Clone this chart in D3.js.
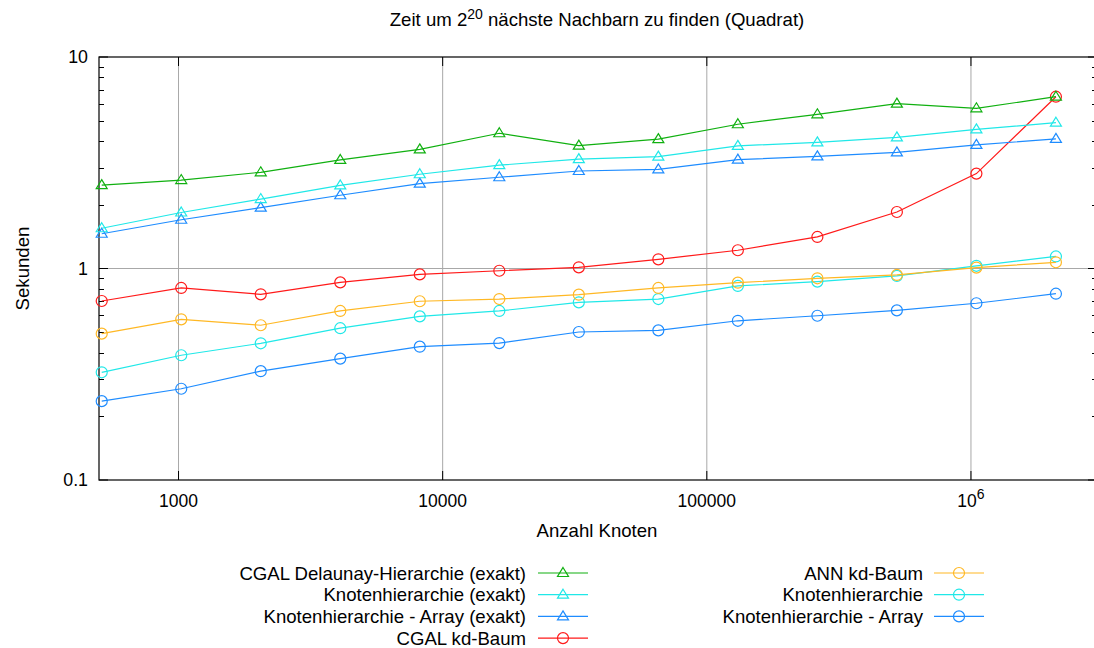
<!DOCTYPE html>
<html><head><meta charset="utf-8">
<script src="https://cdn.jsdelivr.net/npm/d3@7"></script>
<style>body{margin:0;background:#fff}svg{display:block}text{font-family:"Liberation Sans",Arial,sans-serif;fill:#000}</style>
</head><body>
<svg id="c" width="1094" height="648"></svg>
<script>
const nodes = [512, 1024, 2048, 4096, 8192, 16384, 32768, 65536, 131072, 262144, 524288, 1048576, 2097152];
const cgalDelaunayExakt = [2.48, 2.62, 2.85, 3.26, 3.66, 4.36, 3.81, 4.09, 4.81, 5.36, 6.02, 5.72, 6.49];
const knotenExakt = [1.55, 1.84, 2.13, 2.47, 2.79, 3.08, 3.29, 3.38, 3.80, 3.95, 4.17, 4.55, 4.89];
const arrayExakt = [1.46, 1.70, 1.94, 2.22, 2.52, 2.70, 2.89, 2.94, 3.27, 3.39, 3.54, 3.84, 4.10];
const cgalKd = [0.702, 0.809, 0.755, 0.860, 0.938, 0.976, 1.013, 1.105, 1.22, 1.41, 1.85, 2.81, 6.49];
const annKd = [0.492, 0.575, 0.539, 0.630, 0.70, 0.717, 0.752, 0.809, 0.857, 0.899, 0.932, 1.01, 1.07];
const knoten = [0.323, 0.389, 0.443, 0.522, 0.594, 0.630, 0.692, 0.717, 0.827, 0.867, 0.922, 1.03, 1.14];
const knotenArray = [0.236, 0.270, 0.327, 0.375, 0.427, 0.444, 0.501, 0.510, 0.566, 0.598, 0.634, 0.685, 0.760];

const seriesNames = ["CGAL Delaunay-Hierarchie (exakt)", "Knotenhierarchie (exakt)", "Knotenhierarchie - Array (exakt)", "CGAL kd-Baum", "ANN kd-Baum", "Knotenhierarchie", "Knotenhierarchie - Array"];
const seriesValues = [cgalDelaunayExakt, knotenExakt, arrayExakt, cgalKd, annKd, knoten, knotenArray];
const seriesColors = ["#10b010", "#20e8e8", "#1e8cff", "#ff1a1a", "#ffb824", "#20e8e8", "#1e8cff"];
const seriesMarkers = ["tri", "tri", "tri", "circ", "circ", "circ", "circ"];
const xTickValues = [1000, 10000, 100000, 1000000];
const yTickValues = [0.1, 1, 10];

const svg = d3.select("#c");
const L = 99, R = 1097, T = 57, B = 480;
const FS = 18.6;
const x = d3.scaleLog().domain([500, 3e6]).range([L, R]);
const y = d3.scaleLog().domain([0.1, 10]).range([B, T]);

// grid
const g = svg.append("g");
g.selectAll("line.gx").data(xTickValues).join("line")
  .attr("x1", d => x(d)).attr("x2", d => x(d)).attr("y1", T).attr("y2", B)
  .attr("stroke", "#a8a8a8").attr("stroke-width", 1);
g.append("line").attr("x1", L).attr("x2", R).attr("y1", y(1)).attr("y2", y(1))
  .attr("stroke", "#a8a8a8").attr("stroke-width", 1);

// ticks
const minors = [];
[0.1, 1].forEach(b => { for (let k = 2; k <= 9; k++) minors.push(b * k); });
const ax = svg.append("g").attr("stroke", "#000").attr("stroke-width", 1);
ax.selectAll("line.ml").data(minors).join("line")
  .attr("x1", L).attr("x2", L + 5).attr("y1", d => Math.round(y(d)) + 0.5).attr("y2", d => Math.round(y(d)) + 0.5);
ax.selectAll("line.mr").data(minors).join("line")
  .attr("x1", R).attr("x2", R - 5).attr("y1", d => Math.round(y(d)) + 0.5).attr("y2", d => Math.round(y(d)) + 0.5);
ax.selectAll("line.Ml").data(yTickValues).join("line")
  .attr("x1", L).attr("x2", L + 9).attr("y1", d => y(d)).attr("y2", d => y(d));
ax.selectAll("line.Mr").data(yTickValues).join("line")
  .attr("x1", R).attr("x2", R - 9).attr("y1", d => y(d)).attr("y2", d => y(d));
ax.selectAll("line.Mb").data(xTickValues).join("line")
  .attr("x1", d => x(d)).attr("x2", d => x(d)).attr("y1", B).attr("y2", B - 9);
ax.selectAll("line.Mt").data(xTickValues).join("line")
  .attr("x1", d => x(d)).attr("x2", d => x(d)).attr("y1", T).attr("y2", T + 9);
svg.append("rect").attr("x", L).attr("y", T).attr("width", R - L).attr("height", B - T)
  .attr("fill", "none").attr("stroke", "#000").attr("stroke-width", 1.2);

// tick labels
svg.selectAll("text.yt").data(yTickValues).join("text")
  .attr("x", L - 11).attr("y", d => y(d) + 6).attr("text-anchor", "end")
  .attr("font-size", 17.8).text(d => d3.format("")(d));
svg.selectAll("text.xt").data(xTickValues).join("text")
  .attr("x", d => x(d)).attr("y", B + 27).attr("text-anchor", "middle")
  .attr("font-size", 17.5)
  .each(function(d) {
    const t = d3.select(this);
    if (d >= 1e6) {
      const e = Math.round(Math.log10(d));
      t.append("tspan").text("10");
      t.append("tspan").attr("dy", -8).attr("font-size", 14).text(e);
    } else t.text(d);
  });

// titles
const title = svg.append("text").attr("x", 597).attr("y", 26).attr("text-anchor", "middle").attr("font-size", FS);
title.append("tspan").text("Zeit um 2");
title.append("tspan").attr("dy", -7).attr("font-size", 14).text("20");
title.append("tspan").attr("dy", 7).text(" nächste Nachbarn zu finden (Quadrat)");
svg.append("text").attr("x", 597).attr("y", 537).attr("text-anchor", "middle").attr("font-size", FS).text("Anzahl Knoten");
svg.append("text").attr("transform", "translate(29," + ((T + B) / 2) + ") rotate(-90)")
  .attr("text-anchor", "middle").attr("font-size", FS).text("Sekunden");

function marker(sel, type, color) {
  if (type === "tri") {
    sel.append("path").attr("d", "M0,-5.5L5.5,3.5L-5.5,3.5Z")
      .attr("fill", "none").attr("stroke", color).attr("stroke-width", 1.2);
  } else {
    sel.append("circle").attr("r", 5.5).attr("fill", "none").attr("stroke", color).attr("stroke-width", 1.2);
  }
}

const line = d3.line().x((d, i) => x(nodes[i])).y(d => y(d));
for (let s = seriesValues.length - 1; s >= 0; s--) {
  const vals = seriesValues[s];
  const gs = svg.append("g");
  gs.append("path").attr("d", line(vals)).attr("fill", "none").attr("stroke", seriesColors[s]).attr("stroke-width", 1.2);
  vals.forEach((v, i) => {
    const m = gs.append("g").attr("transform", "translate(" + x(nodes[i]) + "," + y(v) + ")");
    marker(m, seriesMarkers[s], seriesColors[s]);
  });
}

// legend
const rowH = 21.7;
seriesNames.forEach((name, s) => {
  const col = s < 4 ? 0 : 1;
  const row = s < 4 ? s : s - 4;
  const tx = col === 0 ? 526 : 923;
  const lx = col === 0 ? 538 : 934;
  const cy = 573 + row * rowH;
  svg.append("text").attr("x", tx).attr("y", cy + 6.5).attr("text-anchor", "end").attr("font-size", FS).text(name);
  svg.append("line").attr("x1", lx).attr("x2", lx + 50).attr("y1", cy).attr("y2", cy)
    .attr("stroke", seriesColors[s]).attr("stroke-width", 1.2);
  const m = svg.append("g").attr("transform", "translate(" + (lx + 25) + "," + cy + ")");
  marker(m, seriesMarkers[s], seriesColors[s]);
});
</script>
</body></html>
